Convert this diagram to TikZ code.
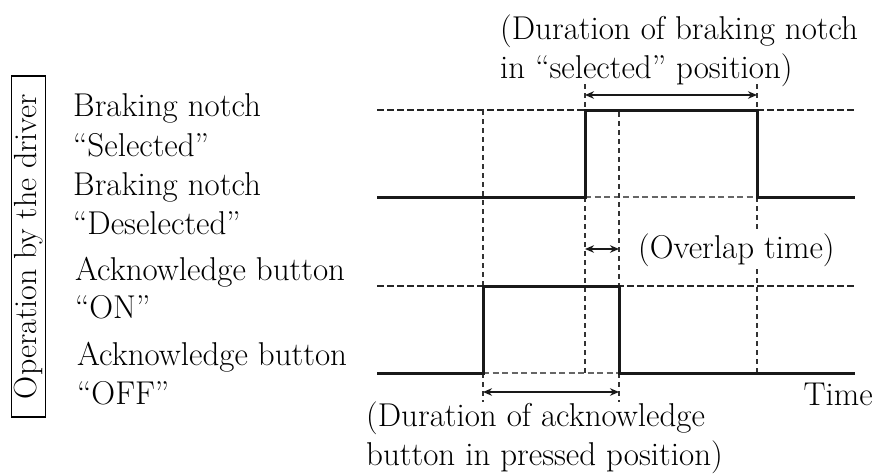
\documentclass[tikz,border=0pt]{standalone}
\usepackage{fontspec}
\setmainfont{Latin Modern Roman}
\usetikzlibrary{arrows.meta}
\newcommand\txtfont{\fontsize{33}{40}\selectfont}
\newcommand\boxfont{\fontsize{32}{38}\selectfont}
\begin{document}
\begin{tikzpicture}[x=1pt,y=-1pt,
  lbl/.style={anchor=west,inner sep=0pt,font=\txtfont},
  wave/.style={line width=3pt,line join=miter,black!90},
  guide/.style={line width=1.8pt,dash pattern=on 6.5pt off 3.5pt,black!85},
  lguide/.style={line width=1.3pt,dash pattern=on 6pt off 3.5pt,black!60},
  vguide/.style={line width=1.8pt,dash pattern=on 5pt off 4pt,black!80},
  dimarrow/.style={line width=2pt,black!90,{Stealth[length=9pt,width=7.5pt]}-{Stealth[length=9pt,width=7.5pt]}}]
\useasboundingbox (0,0) rectangle (876,475);
% coordinates
\coordinate (bL) at (377,197); \coordinate (bR) at (855,197);
\coordinate (aL) at (377,373); \coordinate (aR) at (855,373);
\coordinate (b1) at (585,197); \coordinate (b2) at (585,110);
\coordinate (b3) at (757,110); \coordinate (b4) at (757,197);
\coordinate (a1) at (483,373); \coordinate (a2) at (483,286);
\coordinate (a3) at (619,286); \coordinate (a4) at (619,373);
% dashed guides
\draw[guide] (377,110) -- (855,110);
\draw[guide] (377,286) -- (855,286);
\draw[lguide] (b1) -- (b4);
\draw[lguide] (a1) -- (a4);
\draw[vguide] (483,110) -- (a2);
\draw[vguide] (a1) -- (483,402);
\draw[vguide] (619,112) -- (a3);
\draw[vguide] (a4) -- (619,402);
\draw[vguide] (585,84) -- (b2);
\draw[vguide] (b1) -- (585,373);
\draw[vguide] (757,84) -- (b3);
\draw[vguide] (b4) -- (757,373);
% waveforms
\draw[wave] (bL) -- (b1) -- (b2) -- (b3) -- (b4) -- (bR);
\draw[wave] (aL) -- (a1) -- (a2) -- (a3) -- (a4) -- (aR);
% dimension arrows
\coordinate (d1) at (585,95); \coordinate (d2) at (757,95);
\draw[dimarrow] (d1) -- (d2);
\coordinate (o1) at (585,249); \coordinate (o2) at (619,249);
\draw[dimarrow] (o1) -- (o2);
\coordinate (p1) at (483,392); \coordinate (p2) at (619,392);
\draw[dimarrow] (p1) -- (p2);
% texts
\node[lbl] (t1) at (500,31) {(Duration of braking notch};
\node[lbl] (t2) at (500,70) {in “selected” position)};
\node[lbl,fill=white,inner sep=2pt] (ov) at (636,250) {(Overlap time)};
\node[lbl,anchor=east] (time) at (873,394) {Time};
\node[lbl] (d3) at (366,418) {(Duration of acknowledge};
\node[lbl] (d4) at (366,457) {button in pressed position)};
\node[lbl] (l1) at (73,108) {Braking notch};
\node[lbl] (l2) at (73,145) {“Selected”};
\node[lbl] (l3) at (73,187) {Braking notch};
\node[lbl] (l4) at (73,223) {“Deselected”};
\node[lbl] (l5) at (75,272) {Acknowledge button};
\node[lbl] (l6) at (75,307) {“ON”};
\node[lbl] (l7) at (77,357) {Acknowledge button};
\node[lbl] (l8) at (77,393) {“OFF”};
\node[draw,line width=1.4pt,rotate=90,minimum width=341pt,minimum height=34pt,inner sep=0pt,
  font=\boxfont] (op) at (28.5,246.5) {Operation by the driver};
\end{tikzpicture}
\end{document}
